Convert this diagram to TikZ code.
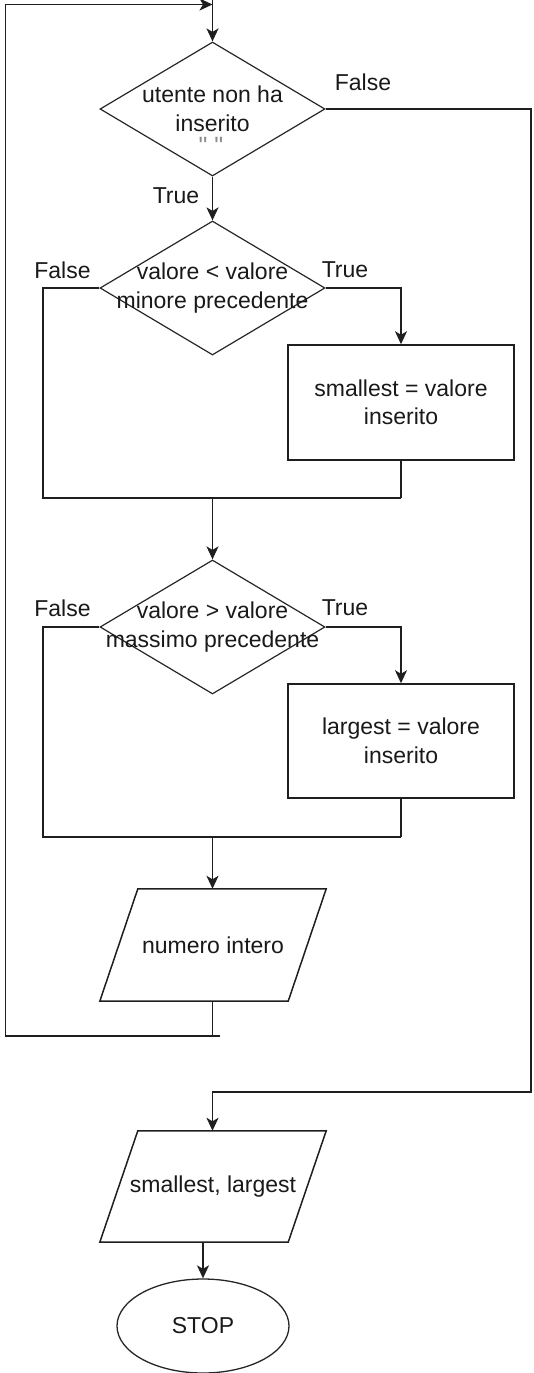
\documentclass[tikz,border=0pt]{standalone}
\usepackage{fontspec}
\setmainfont{Liberation Sans}
\usetikzlibrary{shapes.geometric,arrows.meta,calc}
\begin{document}
\begin{tikzpicture}[x=1pt,y=-1pt,
  every node/.style={font=\fontsize{23}{28.5}\selectfont, inner sep=0pt, text=black!90},
  flow/.style={draw=black!88, line width=1.5pt},
  arr/.style={flow, -{Stealth[length=13pt,width=12pt,inset=3.5pt]}},
  decision/.style={draw=black!85, line width=1.2pt, diamond, minimum width=225pt, minimum height=134pt},
  process/.style={draw=black!88, line width=1.5pt, rectangle, minimum width=226pt, minimum height=115pt},
  iobox/.style={rectangle, minimum width=188pt, minimum height=112pt},
  iodraw/.style={draw=black!88, line width=1.5pt, line join=miter},
  terminal/.style={draw=black!85, line width=1.3pt, ellipse, minimum width=172pt, minimum height=94pt},
  txt/.style={align=center},
  quotes/.style={text=black!45, anchor=north, font=\fontsize{25}{28}\selectfont}
]
\useasboundingbox (0,0) rectangle (533,1373);

% decisions
\node[decision] (d1) at (212.5,109) {};
\node[txt] (d1t) at (d1.center) {utente non ha\\inserito};
\node[quotes] (d1q) at (211,137) {\textquotedbl\ \textquotedbl};
\node[decision] (d2) at (212.5,288) {};
\node[txt] (d2t) at (d2.center) {valore < valore\\minore precedente};
\node[decision] (d3) at (212.5,627) {};
\node[txt] (d3t) at (d3.center) {valore > valore\\massimo precedente};

% assignments
\node[process, txt] (b1) at (401,402.5) {smallest = valore\\inserito};
\node[process, txt, minimum height=114pt] (b2) at (401,741) {largest = valore\\inserito};

% input / output
\node[iobox] (p1) at (213,945) {numero intero};
\draw[iodraw] ($(p1.south west)+(-19,0)$) -- ($(p1.south east)+(-19,0)$)
  -- ($(p1.north east)+(19,0)$) -- ($(p1.north west)+(19,0)$) -- cycle;
\node[iobox, minimum height=111pt] (p2) at (213,1186.5) {smallest, largest};
\draw[iodraw] ($(p2.south west)+(-19,0)$) -- ($(p2.south east)+(-19,0)$)
  -- ($(p2.north east)+(19,0)$) -- ($(p2.north west)+(19,0)$) -- cycle;

% end
\node[terminal] (stop) at (203,1326) {STOP};

% branch labels
\node (f1) at (363,82) {False};
\node (t1) at (176,196) {True};
\node (f2) at (62.5,270) {False};
\node (t2) at (345,270) {True};
\node (f3) at (62.5,608) {False};
\node (t3) at (345,608) {True};

% junction points
\coordinate (in) at (212.5,0);
\coordinate (j1) at (212.5,498);
\coordinate (j1L) at (43,498);
\coordinate (j1R) at (401,498);
\coordinate (j2) at (212.5,837);
\coordinate (j2L) at (43,837);
\coordinate (j2R) at (401,837);
\coordinate (lpB) at (212.5,1036);
\coordinate (lpBx) at (220,1036);
\coordinate (lpBL) at (5.5,1036);
\coordinate (lpTL) at (5.5,4.5);
\coordinate (lpT) at (212.5,4.5);
\coordinate (exR) at (531,109);
\coordinate (exRB) at (531,1092);
\coordinate (exB) at (212.5,1092);

% main flow
\draw[arr] (in) -- (d1.north);
\draw[arr] (d1.south) -- (d2.north);

\draw[flow] (d2.west) -| (j1L) -- (j1R);
\draw[arr] (d2.east) -| (b1.north);
\draw[flow] (b1.south) -- (j1R);
\draw[arr] (j1) -- (d3.north);

\draw[flow] (d3.west) -| (j2L) -- (j2R);
\draw[arr] (d3.east) -| (b2.north);
\draw[flow] (b2.south) -- (j2R);
\draw[arr] (j2) -- (j2 |- p1.north);

% loop back to the test
\draw[arr] (p1.south -| lpB) -- (lpB) -- (lpBL) -- (lpTL) -- (lpT);
\draw[flow] (lpB) -- (lpBx);

% exit
\draw[arr] (d1.east) -- (exR) -- (exRB) -- (exB) -- (exB |- p2.north);
\draw[arr] (p2.south -| stop) -- (stop.north);
\end{tikzpicture}
\end{document}
